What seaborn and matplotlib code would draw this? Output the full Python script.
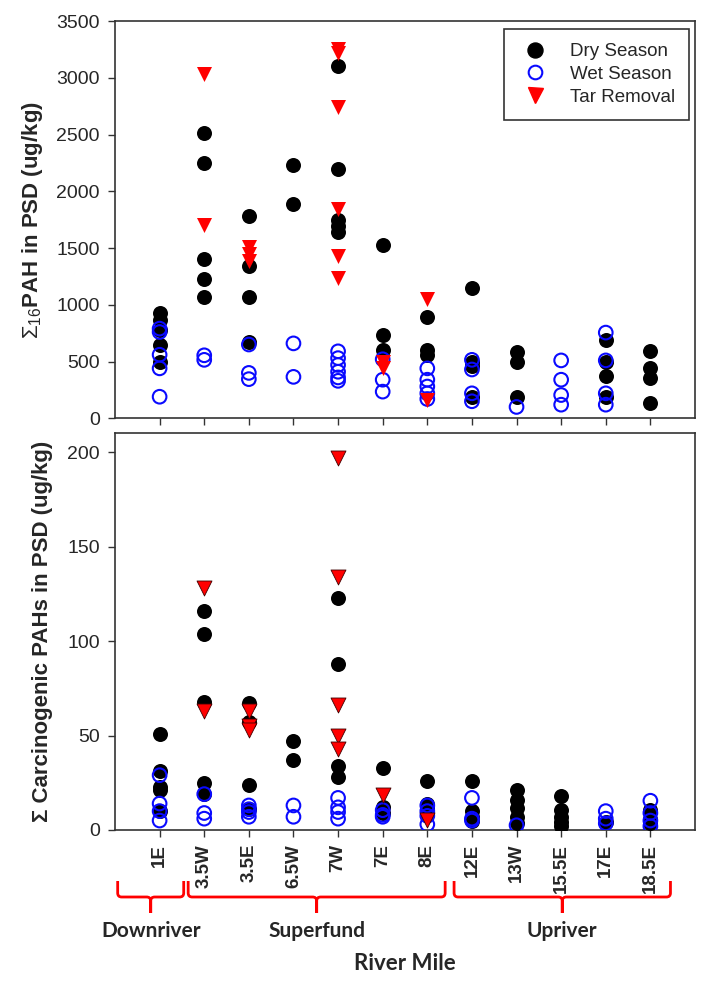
import numpy as np
import pandas as pd
import matplotlib
matplotlib.use("Agg")
import matplotlib.pyplot as plt
import matplotlib.transforms as mtransforms
from matplotlib.lines import Line2D
from matplotlib.path import Path
from matplotlib.patches import PathPatch
import seaborn as sns

# ---------------- data ----------------
sites = ["1E", "3.5W", "3.5E", "6.5W", "7W", "7E", "8E",
         "12E", "13W", "15.5E", "17E", "18.5E"]

# Top panel: sum of 16 PAHs in PSD (ug/kg), one list per site
pah_dry = [
    [930, 870, 780, 645, 500],
    [2510, 2250, 1400, 1230, 1065],
    [1780, 1340, 1065, 670],
    [2230, 1890],
    [3100, 2200, 1750, 1690, 1640],
    [1530, 735, 600],
    [890, 600, 560],
    [1150, 500, 460, 190],
    [580, 500, 190],
    [],
    [690, 500, 370, 190],
    [590, 440, 355, 135],
]
pah_wet = [
    [790, 760, 560, 440, 190],
    [555, 515],
    [650, 400, 345],
    [660, 365],
    [590, 530, 470, 410, 360, 330],
    [520, 340, 235],
    [440, 340, 280, 220, 170],
    [515, 430, 220, 150],
    [100],
    [510, 340, 205, 120],
    [755, 510, 220, 120],
    [],
]
pah_tar = [
    [], [3030, 1700], [1510, 1450, 1390], [],
    [3250, 3220, 2740, 1840, 1430, 1240],
    [500, 440], [1050, 160], [], [], [], [], [],
]

# Bottom panel: carcinogenic PAHs in PSD (ug/kg)
carc_dry = [
    [51, 31, 23, 21, 10],
    [116, 104, 68, 25, 19],
    [67, 57, 24, 11],
    [47, 37],
    [123, 88, 34, 28],
    [33, 12, 9],
    [26, 14, 11.5, 9],
    [26, 10, 7, 5],
    [21, 16, 11.5, 7, 3.5],
    [18, 10.5, 7, 4, 2],
    [4],
    [10.5, 6, 3.5],
]
carc_wet = [
    [29, 14, 10, 5],
    [19, 9, 6],
    [13, 11, 9.5, 7],
    [13, 7],
    [17, 12, 9.5, 6],
    [10.5, 8, 7],
    [13, 10, 7.5, 3],
    [17, 6, 5],
    [2.5],
    [],
    [10, 6, 3.5],
    [15.5, 9, 5, 2],
]
carc_tar = [
    [], [128, 63], [63, 55, 53], [],
    [197, 134, 66, 50, 43],
    [18.5], [5.3], [], [], [], [], [],
]

series_labels = ["Dry Season", "Wet Season", "Tar Removal"]
pah_ticks = [0, 500, 1000, 1500, 2000, 2500, 3000, 3500]
carc_ticks = [0, 50, 100, 150, 200]
regions = ["Downriver", "Superfund", "Upriver"]


def to_long(per_site):
    rows = [(s, v) for s, vals in zip(sites, per_site) for v in vals]
    return pd.DataFrame(rows, columns=["site", "value"])


# ---------------- style ----------------
sns.set_style("ticks")
plt.rcParams["font.family"] = ["Liberation Sans", "DejaVu Sans"]
plt.rcParams["mathtext.fontset"] = "custom"
plt.rcParams["mathtext.rm"] = "Liberation Sans"
plt.rcParams["mathtext.it"] = "Liberation Sans"
plt.rcParams["mathtext.bf"] = "Liberation Sans:bold"

SPINE = "#333333"
BLUE = "#0a0aff"
RED = "#ff0000"
MS = 10.8

fig = plt.figure(figsize=(7.11, 9.85), dpi=100)
ax1 = fig.add_axes([115 / 711, 1 - 418.3 / 985, 580 / 711, 397.3 / 985])
ax2 = fig.add_axes([115 / 711, 1 - 830 / 985, 580 / 711, 396.7 / 985])


def draw_panel(ax, dry, wet, tar, tar_edge):
    sns.stripplot(data=to_long(dry), x="site", y="value", order=sites,
                  jitter=False, color="black", size=MS, linewidth=0,
                  marker="o", ax=ax, zorder=3)
    n0 = len(ax.collections)
    sns.stripplot(data=to_long(wet), x="site", y="value", order=sites,
                  jitter=False, color=BLUE, facecolor="none", edgecolor=BLUE,
                  size=MS - 1, linewidth=1.5, marker="o", ax=ax, zorder=4)
    for c in ax.collections[n0:]:
        c.set_facecolor("none")
        c.set_edgecolor(BLUE)
    sns.stripplot(data=to_long(tar), x="site", y="value", order=sites,
                  jitter=False, color=RED, size=MS,
                  edgecolor=tar_edge, linewidth=0.6 if tar_edge != RED else 0,
                  marker="v", ax=ax, zorder=5)
    ax.set_xlim(-1, 12)
    ax.set_xticks(range(len(sites)))
    ax.set_xlabel("")
    for sp in ax.spines.values():
        sp.set_color(SPINE)
        sp.set_linewidth(1.2)
        sp.set_visible(True)
    ax.tick_params(axis="both", direction="out", length=5, width=1,
                   color=SPINE, labelsize=14, pad=6)


draw_panel(ax1, pah_dry, pah_wet, pah_tar, RED)
draw_panel(ax2, carc_dry, carc_wet, carc_tar, "#400000")

ax1.set_ylim(0, 3500)
ax1.set_yticks(pah_ticks)
ax1.set_xticklabels([])
ax1.set_ylabel(r"$\Sigma_{16}$PAH in PSD (ug/kg)", fontsize=16,
               fontweight="bold")
ax1.yaxis.set_label_coords(-0.121, 0.5)

ax2.set_ylim(0, 210)
ax2.set_yticks(carc_ticks)
ax2.set_xticklabels(sites, rotation=90, fontweight="bold", fontsize=13.5)
ax2.tick_params(axis="x", pad=5)
ax2.set_ylabel("\u03a3 Carcinogenic PAHs in PSD (ug/kg)", fontsize=16,
               fontweight="bold")
ax2.yaxis.set_label_coords(-0.107, 0.5)

# legend
handles = [
    Line2D([], [], ls="", marker="o", color="black", ms=MS),
    Line2D([], [], ls="", marker="o", mfc="none", mec=BLUE, mew=1.5, ms=MS - 1),
    Line2D([], [], ls="", marker="v", color=RED, ms=MS),
]
leg = ax1.legend(handles, series_labels, loc="upper right",
                 bbox_to_anchor=(689 / 711, 1 - 29 / 985),
                 bbox_transform=fig.transFigure, fontsize=13.5,
                 frameon=True, fancybox=False, framealpha=1,
                 edgecolor=SPINE, borderpad=0.75, labelspacing=0.3,
                 handlelength=1.8, handletextpad=0.95, borderaxespad=0)
leg.get_frame().set_linewidth(1.2)

# region braces below the axis
blend = mtransforms.blended_transform_factory(ax2.transData, fig.transFigure)


def fy(py):
    return 1 - py / 985


brace_spans = [(-0.94, 0.54), (0.64, 6.40), (6.60, 11.45)]
label_y = fy(931)
for (x0, x1), name in zip(brace_spans, regions):
    xm = (x0 + x1) / 2
    yt, ym, ytip, e, dx = fy(881), fy(897), fy(913), 4 / 985, 0.09
    verts = [
        (x0, yt), (x0, ym + e), (x0, ym), (x0 + dx, ym), (xm - dx, ym),
        (xm, ym), (xm, ym - e), (xm, ytip),
        (x1, yt), (x1, ym + e), (x1, ym), (x1 - dx, ym), (xm + dx, ym),
        (xm, ym), (xm, ym - e), (xm, ytip),
    ]
    codes = [Path.MOVETO, Path.LINETO, Path.CURVE3, Path.CURVE3, Path.LINETO,
             Path.CURVE3, Path.CURVE3, Path.LINETO] * 2
    fig.add_artist(PathPatch(Path(verts, codes), transform=blend,
                             fill=False, edgecolor=RED, linewidth=2))
    fig.text(xm, label_y, name, transform=blend, ha="center", va="center",
             fontsize=15, fontweight="bold", family=["Lato", "DejaVu Sans"])

fig.text(404.5 / 711, fy(963), "River Mile", ha="center", va="center",
         fontsize=16, fontweight="bold", family=["Lato", "DejaVu Sans"])

fig.savefig("out.png", dpi=100)
